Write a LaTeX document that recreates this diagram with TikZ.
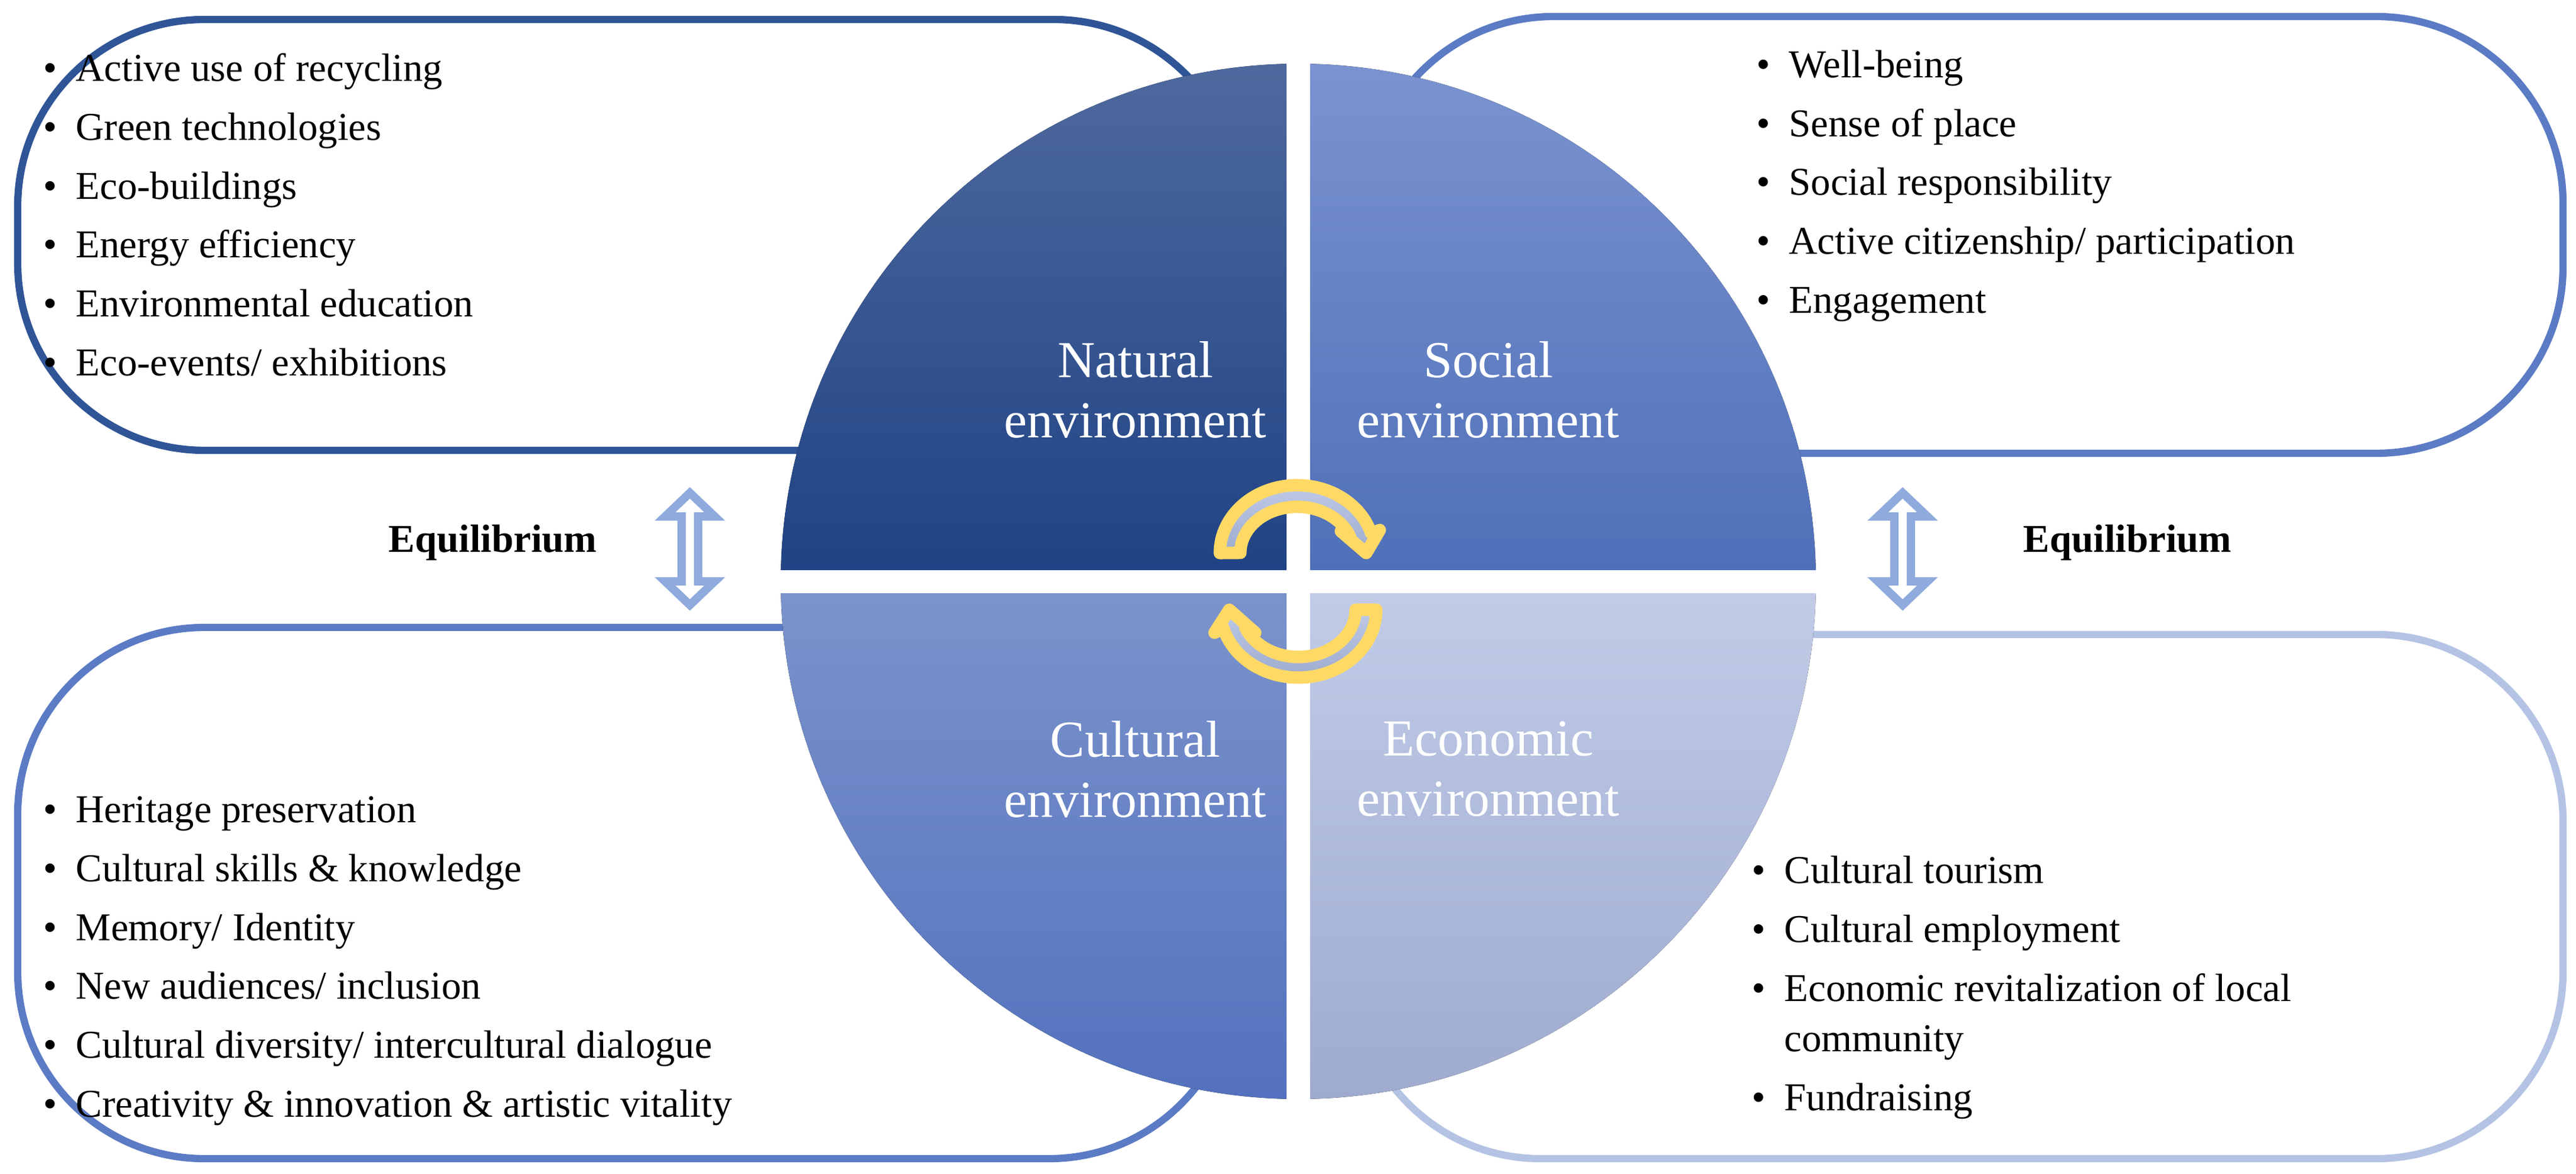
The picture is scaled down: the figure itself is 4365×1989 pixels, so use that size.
\documentclass[tikz,border=0pt]{standalone}
\usepackage{fontspec}
\setmainfont{Liberation Serif}
\definecolor{natT}{HTML}{4E699E}\definecolor{natB}{HTML}{1F4284}
\definecolor{socT}{HTML}{7B93D0}\definecolor{socB}{HTML}{4E6FB8}
\definecolor{culT}{HTML}{7C94CC}\definecolor{culB}{HTML}{5371BE}
\definecolor{ecoT}{HTML}{C2CCE8}\definecolor{ecoB}{HTML}{9EABCF}
\definecolor{bxA}{HTML}{2F5597}\definecolor{bxB}{HTML}{5B7BC4}\definecolor{bxC}{HTML}{B4C3E4}
\definecolor{eqc}{HTML}{8FAADC}\definecolor{gold}{HTML}{FFD966}
\definecolor{arT}{HTML}{BFCAE7}\definecolor{arB}{HTML}{9DABCE}
\tikzset{
  box/.style={rounded corners=90, line width=3.5},
  list/.style={anchor=west, inner sep=0, font=\fontsize{19pt}{28.4pt}\selectfont},
  qlabel/.style={align=center, text=white, font=\fontsize{25pt}{29pt}\selectfont},
  eq/.style={font=\fontsize{19pt}{23pt}\selectfont\bfseries},
  dbl/.style={draw=eqc, line width=4, fill=white, line join=miter},
  circarrow/.style={draw=gold, line width=6, top color=arT, bottom color=arB, line join=round}
}
\newcommand{\blist}[1]{\begin{tabular}{@{}l@{\hspace{9pt}}l@{}}#1\end{tabular}}
\begin{document}
\begin{tikzpicture}[x=0.01cm,y=-0.01cm]
\useasboundingbox (0,0) rectangle (4365,1989);
% boxes
\draw[box, draw=bxA] (30,33) rectangle (2102,763);
\draw[box, draw=bxB] (2316,28) rectangle (4343,768);
\draw[box, draw=bxB] (30,1063) rectangle (2094,1963);
\draw[box, draw=bxC] (2294,1075) rectangle (4343,1963);
% quadrants
\fill[top color=natT, bottom color=natB] (2200,985) -- (1323,985) arc[start angle=180,end angle=270,radius=877] -- cycle;
\fill[top color=socT, bottom color=socB] (2200,985) -- (2200,108) arc[start angle=270,end angle=360,radius=877] -- cycle;
\fill[top color=culT, bottom color=culB] (2200,985) -- (1323,985) arc[start angle=180,end angle=90,radius=877] -- cycle;
\fill[top color=ecoT, bottom color=ecoB] (2200,985) -- (3077,985) arc[start angle=0,end angle=90,radius=877] -- cycle;
\fill[white] (2180,80) rectangle (2220,1890);
\fill[white] (1300,966) rectangle (3100,1005);
% labels
\node[qlabel] (nat) at (1924,660) {Natural\\environment};
\node[qlabel] (soc) at (2522,660) {Social\\environment};
\node[qlabel] (cul) at (1924,1303) {Cultural\\environment};
\node[qlabel] (eco) at (2522,1303) {Economic\\environment};
% circular arrows
\path[circarrow] (2067,937) arc[start angle=180,end angle=343,x radius=131,y radius=115]
  -- (2338,898) -- (2315,937) -- (2272,900) -- (2288,910)
  arc[start angle=340,end angle=180,x radius=96,y radius=78] -- cycle;
\path[circarrow] (2332,1033) arc[start angle=0,end angle=164,x radius=132,y radius=115]
  -- (2058,1072) -- (2083,1033) -- (2127,1072) -- (2110,1063)
  arc[start angle=158,end angle=0,x radius=97,y radius=80] -- cycle;
% equilibrium double arrows
\foreach \cx/\nm in {1169/dl,3224/dr}{
  \draw[dbl] (\cx,835) -- (\cx+42,875) -- (\cx+14,875) -- (\cx+14,985) -- (\cx+42,985)
    -- (\cx,1025) -- (\cx-42,985) -- (\cx-14,985) -- (\cx-14,875) -- (\cx-42,875) -- cycle;
}
\node[eq] (eql) at (835,919) {Equilibrium};
\node[eq] (eqr) at (3605,919) {Equilibrium};
% lists
\node[list] (tl) at (73,367) {\blist{\textbullet & Active use of recycling\\ \textbullet & Green technologies\\ \textbullet & Eco-buildings\\ \textbullet & Energy efficiency\\ \textbullet & Environmental education\\ \textbullet & Eco-events/ exhibitions}};
\node[list] (tr) at (2976,311) {\blist{\textbullet & Well-being\\ \textbullet & Sense of place\\ \textbullet & Social responsibility\\ \textbullet & Active citizenship/ participation\\ \textbullet & Engagement}};
\node[list] (bl) at (73,1623) {\blist{\textbullet & Heritage preservation\\ \textbullet & Cultural skills \& knowledge\\ \textbullet & Memory/ Identity\\ \textbullet & New audiences/ inclusion\\ \textbullet & Cultural diversity/ intercultural dialogue\\ \textbullet & Creativity \& innovation \& artistic vitality}};
\node[list] (br) at (2968,1669) {\blist{\textbullet & Cultural tourism\\ \textbullet & Cultural employment\\ \textbullet & Economic revitalization of local\\[-4pt] & community\\ \textbullet & Fundraising}};
\end{tikzpicture}
\end{document}
